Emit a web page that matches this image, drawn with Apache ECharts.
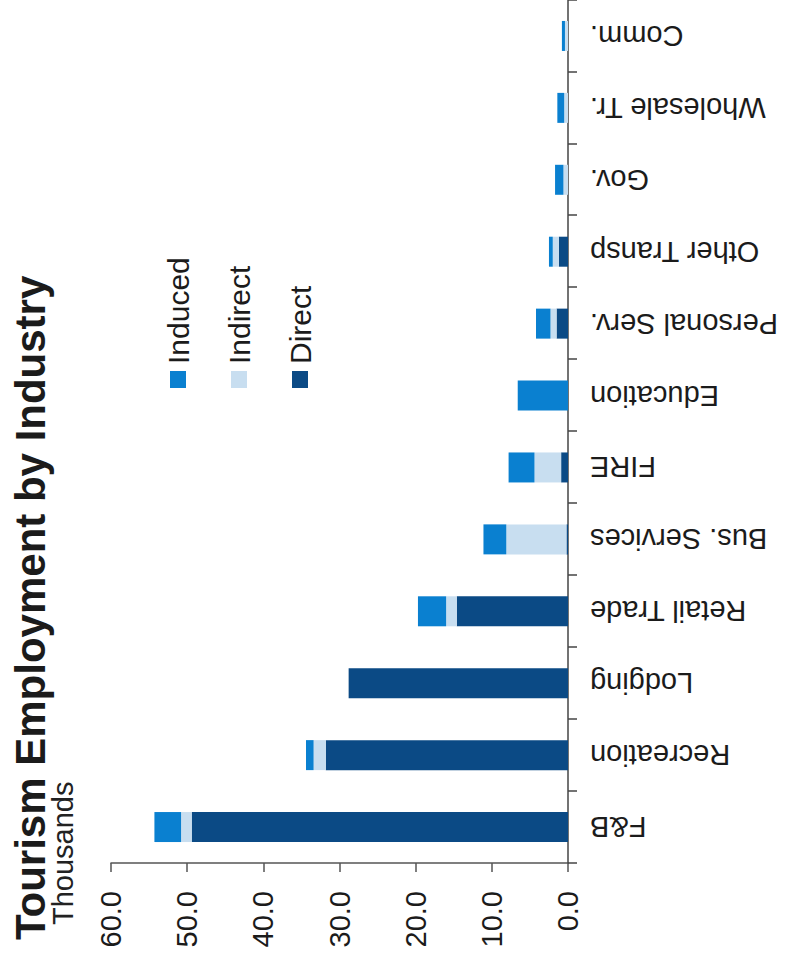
<!DOCTYPE html>
<html>
<head>
<meta charset="utf-8">
<script src="https://cdn.jsdelivr.net/npm/echarts@6/dist/echarts.min.js"></script>
<style>
  html, body { margin: 0; padding: 0; background: #fff; overflow: hidden; }
  body { width: 793px; height: 962px; position: relative; }
  /* the chart is drawn upright and then turned a quarter left, as in the scan */
  #chart {
    position: absolute; left: 0; top: 0;
    width: 962px; height: 793px;
    transform-origin: 0 0;
    transform: translateY(962px) rotate(-90deg);
  }
</style>
</head>
<body>
<div id="chart"></div>
<script>
// Tourism employment, thousands
const industries = ["F&B", "Recreation", "Lodging", "Retail Trade", "Bus. Services", "FIRE",
  "Education", "Personal Serv.", "Other Transp", "Gov.", "Wholesale Tr.", "Comm."]
const direct   = [49.4, 31.8, 28.8, 14.6, 0.2, 0.9, 0, 1.5, 1.2, 0, 0, 0]
const indirect = [1.4, 1.6, 0, 1.4, 7.9, 3.5, 0, 0.8, 0.8, 0.6, 0.5, 0.4]
const induced  = [3.5, 1.0, 0, 3.7, 3.0, 3.4, 6.6, 1.9, 0.5, 1.1, 0.9, 0.4]
const valueTicks = { min: 0, max: 60, step: 10 }

const FONT = '"Liberation Sans", Arial, sans-serif'

const chart = echarts.init(document.getElementById("chart"), null, { renderer: "svg" })

const option = {
  backgroundColor: "#fff",
  animation: false,
  textStyle: { fontFamily: FONT },
  graphic: [
    {
      type: "text", left: 22, top: 9,
      style: { text: "Tourism Employment by Industry", font: "bold 42px " + FONT, fill: "#1b1b1b" },
    },
    {
      type: "text", left: 37, top: 48,
      style: { text: "Thousands", font: "29px " + FONT, fill: "#222" },
    },
  ],
  legend: {
    orient: "vertical",
    left: 574,
    top: 163,
    padding: 0,
    itemGap: 31,
    itemWidth: 17,
    itemHeight: 16,
    icon: "rect",
    data: ["Induced", "Indirect", "Direct"],
    textStyle: { fontSize: 30, color: "#1b1b1b", fontFamily: FONT, padding: [0, 0, 0, 2] },
  },
  grid: { left: 99, right: -5, top: 111, bottom: 225 },
  xAxis: {
    type: "category",
    data: industries,
    axisLine: { lineStyle: { color: "#444", width: 1.5 } },
    axisTick: { show: true, length: 9, lineStyle: { color: "#444", width: 1.5 } },
    axisLabel: { rotate: 90, margin: 22, fontSize: 29, color: "#1b1b1b", fontFamily: FONT },
  },
  yAxis: {
    type: "value",
    min: valueTicks.min,
    max: valueTicks.max,
    interval: valueTicks.step,
    axisLine: { show: true, lineStyle: { color: "#555", width: 1.5 } },
    axisTick: { show: true, length: 9, lineStyle: { color: "#555", width: 1.5 } },
    splitLine: { show: false },
    axisLabel: {
      margin: 28, fontSize: 29, color: "#1b1b1b", fontFamily: FONT,
      formatter: v => v.toFixed(1),
    },
  },
  series: [
    { name: "Direct", type: "bar", stack: "total", barWidth: 30, data: direct,
      itemStyle: { color: "#0b4a85" } },
    { name: "Indirect", type: "bar", stack: "total", barWidth: 30, data: indirect,
      itemStyle: { color: "#c8def0" } },
    { name: "Induced", type: "bar", stack: "total", barWidth: 30, data: induced,
      itemStyle: { color: "#0a80d0" } },
  ],
}

chart.setOption(option)
</script>
</body>
</html>
